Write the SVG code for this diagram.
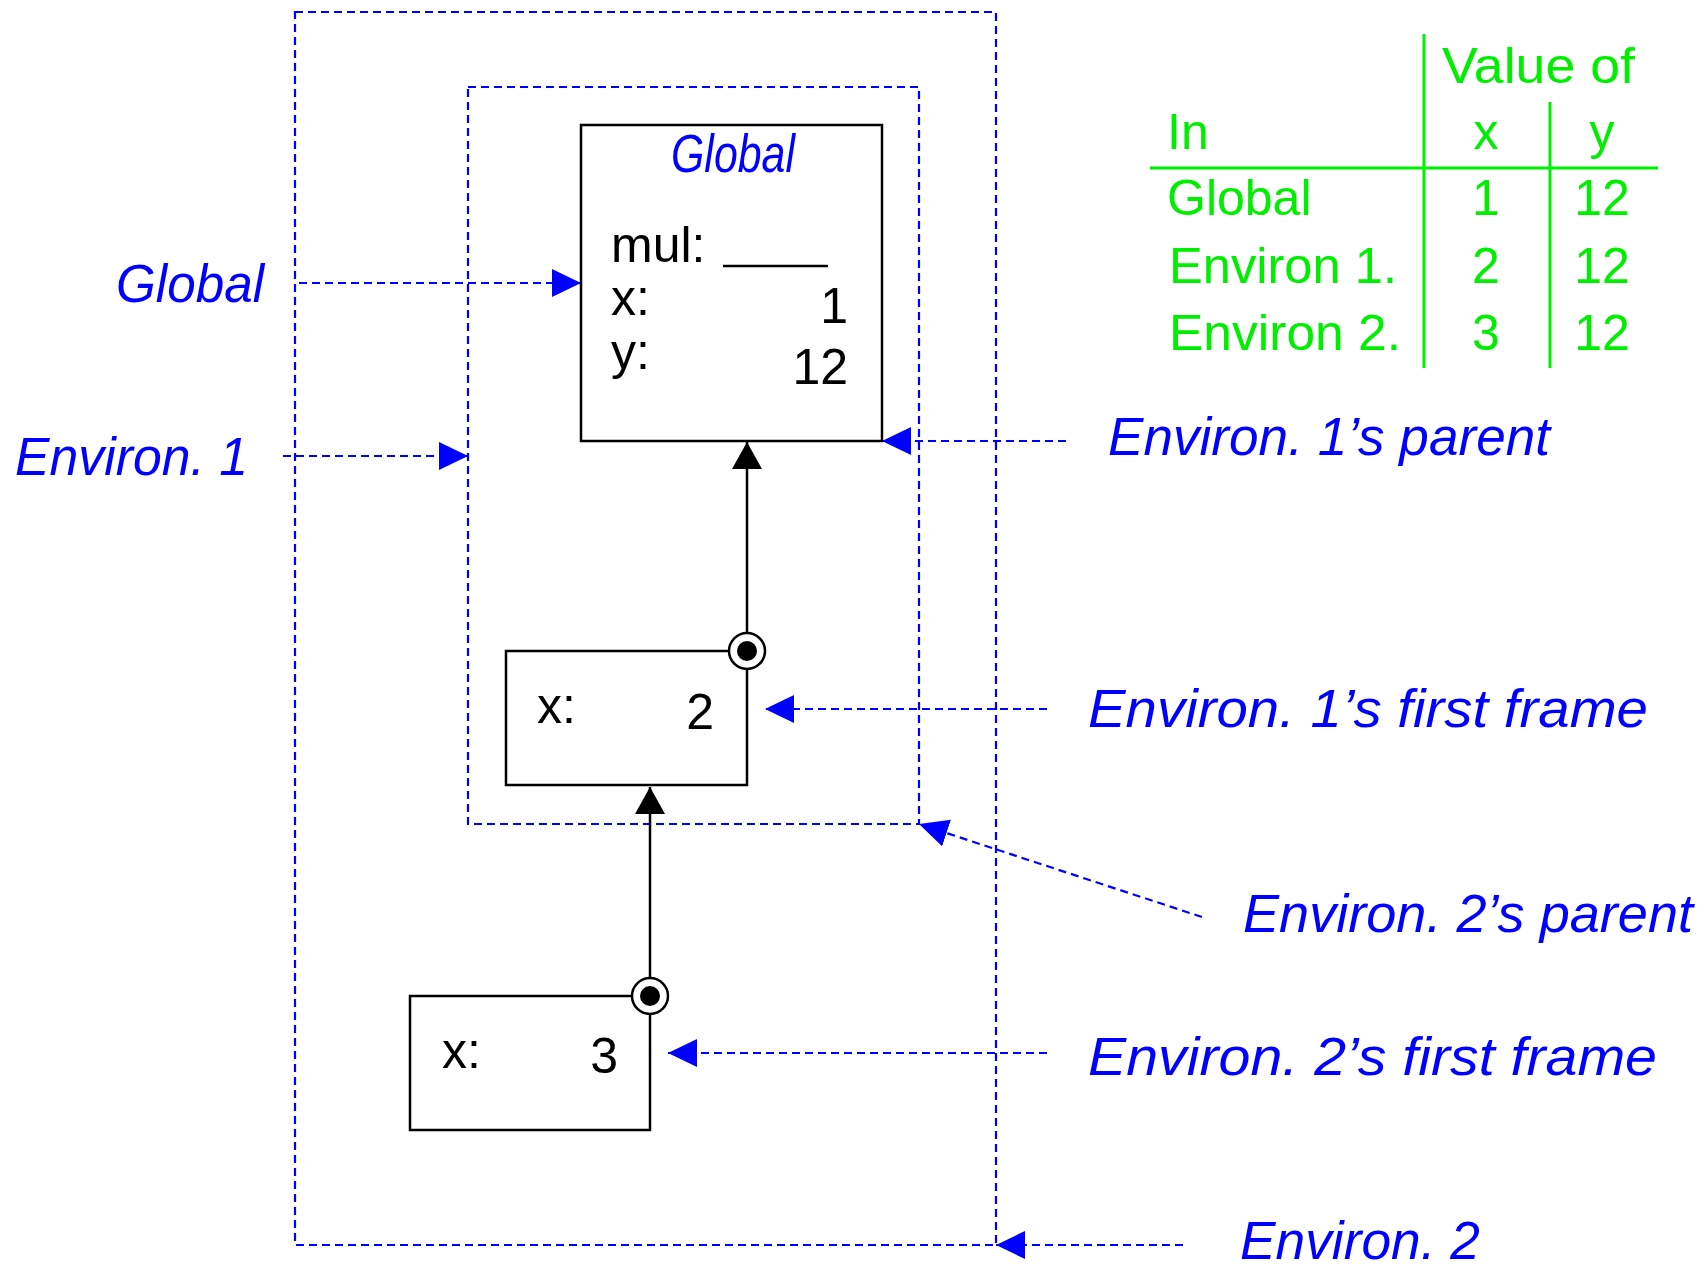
<svg xmlns="http://www.w3.org/2000/svg" width="1706" height="1271" viewBox="0 0 1706 1271">
<style>
  .bg{fill:#fff}
  .frame{fill:#fff;stroke:#000;stroke-width:2.5}
  .env{fill:none;stroke:#0000ff;stroke-width:2.2;stroke-dasharray:8 5}
  .dash{fill:none;stroke:#0000ff;stroke-width:2.2;stroke-dasharray:8 5}
  .solid{fill:none;stroke:#000;stroke-width:2.5}
  .lbl{font-family:"Liberation Sans",Arial,sans-serif;font-style:italic;fill:#0000ff;font-size:54px}
  .ftext{font-family:"Liberation Sans",Arial,sans-serif;fill:#000;font-size:50px}
  .tbl{font-family:"Liberation Sans",Arial,sans-serif;fill:#00ee00;font-size:50px}
  .tline{stroke:#00ee00;stroke-width:3;fill:none}
  .ring{fill:#fff;stroke:#000;stroke-width:2.5}
</style>
<defs>
  <marker id="blueArrow" markerUnits="userSpaceOnUse" markerWidth="30" markerHeight="30" refX="29" refY="14" orient="auto">
    <path d="M0,0 L29,14 L0,28 z" fill="#0000ff"/>
  </marker>
  <marker id="blackArrow" markerUnits="userSpaceOnUse" markerWidth="30" markerHeight="32" refX="27" refY="15" orient="auto">
    <path d="M0,0 L27,15 L0,30 z" fill="#000"/>
  </marker>
</defs>
<rect class="bg" x="0" y="0" width="1706" height="1271"/>

<g id="environ2-box">
  <rect class="env" x="295" y="12" width="701" height="1233"/>
</g>
<g id="environ1-box">
  <rect class="env" x="468" y="87" width="451" height="737"/>
</g>

<g id="connectors">
  <line class="dash" x1="299" y1="283" x2="581" y2="283" marker-end="url(#blueArrow)"/>
  <line class="dash" x1="283" y1="456" x2="468" y2="456" marker-end="url(#blueArrow)"/>
  <line class="dash" x1="1066" y1="441" x2="882" y2="441" marker-end="url(#blueArrow)"/>
  <line class="dash" x1="1047" y1="709" x2="765" y2="709" marker-end="url(#blueArrow)"/>
  <line class="dash" x1="1202" y1="917" x2="919" y2="824" marker-end="url(#blueArrow)"/>
  <line class="dash" x1="1047" y1="1053" x2="668" y2="1053" marker-end="url(#blueArrow)"/>
  <line class="dash" x1="1183" y1="1245" x2="996" y2="1245" marker-end="url(#blueArrow)"/>
  <line class="solid" x1="747" y1="651" x2="747" y2="442" marker-end="url(#blackArrow)"/>
  <line class="solid" x1="650" y1="996" x2="650" y2="787" marker-end="url(#blackArrow)"/>
</g>

<g id="global-frame">
  <rect class="frame" x="581" y="125" width="301" height="316"/>
  <text class="lbl" x="733" y="172" font-size="43" text-anchor="middle" textLength="124" lengthAdjust="spacingAndGlyphs">Global</text>
  <text class="ftext" x="611" y="262" font-size="48">mul:</text>
  <line x1="723" y1="266" x2="828" y2="266" stroke="#000" stroke-width="2.5"/>
  <text class="ftext" x="611" y="315" font-size="46">x:</text>
  <text class="ftext" x="848" y="323" text-anchor="end">1</text>
  <text class="ftext" x="611" y="369" font-size="46">y:</text>
  <text class="ftext" x="848" y="384" text-anchor="end">12</text>
</g>

<g id="frame-e1">
  <rect class="frame" x="506" y="651" width="241" height="134"/>
  <text class="ftext" x="537" y="723">x:</text>
  <text class="ftext" x="714" y="729" text-anchor="end">2</text>
  <circle class="ring" cx="747" cy="651" r="18"/>
  <circle cx="747" cy="651" r="10" fill="#000"/>
</g>

<g id="frame-e2">
  <rect class="frame" x="410" y="996" width="240" height="134"/>
  <text class="ftext" x="442" y="1068">x:</text>
  <text class="ftext" x="618" y="1073" text-anchor="end">3</text>
  <circle class="ring" cx="650" cy="996" r="18"/>
  <circle cx="650" cy="996" r="10" fill="#000"/>
</g>

<g id="labels">
  <text class="lbl" x="116" y="302" textLength="148" lengthAdjust="spacingAndGlyphs">Global</text>
  <text class="lbl" x="15" y="475" textLength="233" lengthAdjust="spacingAndGlyphs">Environ. 1</text>
  <text class="lbl" x="1108" y="455" textLength="442" lengthAdjust="spacingAndGlyphs">Environ. 1’s parent</text>
  <text class="lbl" x="1088" y="727" textLength="560" lengthAdjust="spacingAndGlyphs">Environ. 1’s first frame</text>
  <text class="lbl" x="1243" y="932" textLength="450" lengthAdjust="spacingAndGlyphs">Environ. 2’s parent</text>
  <text class="lbl" x="1088" y="1075" textLength="569" lengthAdjust="spacingAndGlyphs">Environ. 2’s first frame</text>
  <text class="lbl" x="1240" y="1259" font-size="50" textLength="240" lengthAdjust="spacingAndGlyphs">Environ. 2</text>
</g>

<g id="table">
  <line class="tline" x1="1424" y1="34" x2="1424" y2="368"/>
  <line class="tline" x1="1550" y1="102" x2="1550" y2="368"/>
  <line class="tline" x1="1150" y1="168" x2="1658" y2="168"/>
  <text class="tbl" x="1442" y="83" textLength="193" lengthAdjust="spacingAndGlyphs">Value of</text>
  <text class="tbl" x="1167" y="149">In</text>
  <text class="tbl" x="1486" y="149" text-anchor="middle">x</text>
  <text class="tbl" x="1602" y="149" text-anchor="middle">y</text>
  <text class="tbl" x="1167" y="215">Global</text>
  <text class="tbl" x="1486" y="215" text-anchor="middle">1</text>
  <text class="tbl" x="1602" y="215" text-anchor="middle">12</text>
  <text class="tbl" x="1169" y="283" textLength="228" lengthAdjust="spacingAndGlyphs">Environ 1.</text>
  <text class="tbl" x="1486" y="283" text-anchor="middle">2</text>
  <text class="tbl" x="1602" y="283" text-anchor="middle">12</text>
  <text class="tbl" x="1169" y="350" textLength="232" lengthAdjust="spacingAndGlyphs">Environ 2.</text>
  <text class="tbl" x="1486" y="350" text-anchor="middle">3</text>
  <text class="tbl" x="1602" y="350" text-anchor="middle">12</text>
</g>
</svg>
